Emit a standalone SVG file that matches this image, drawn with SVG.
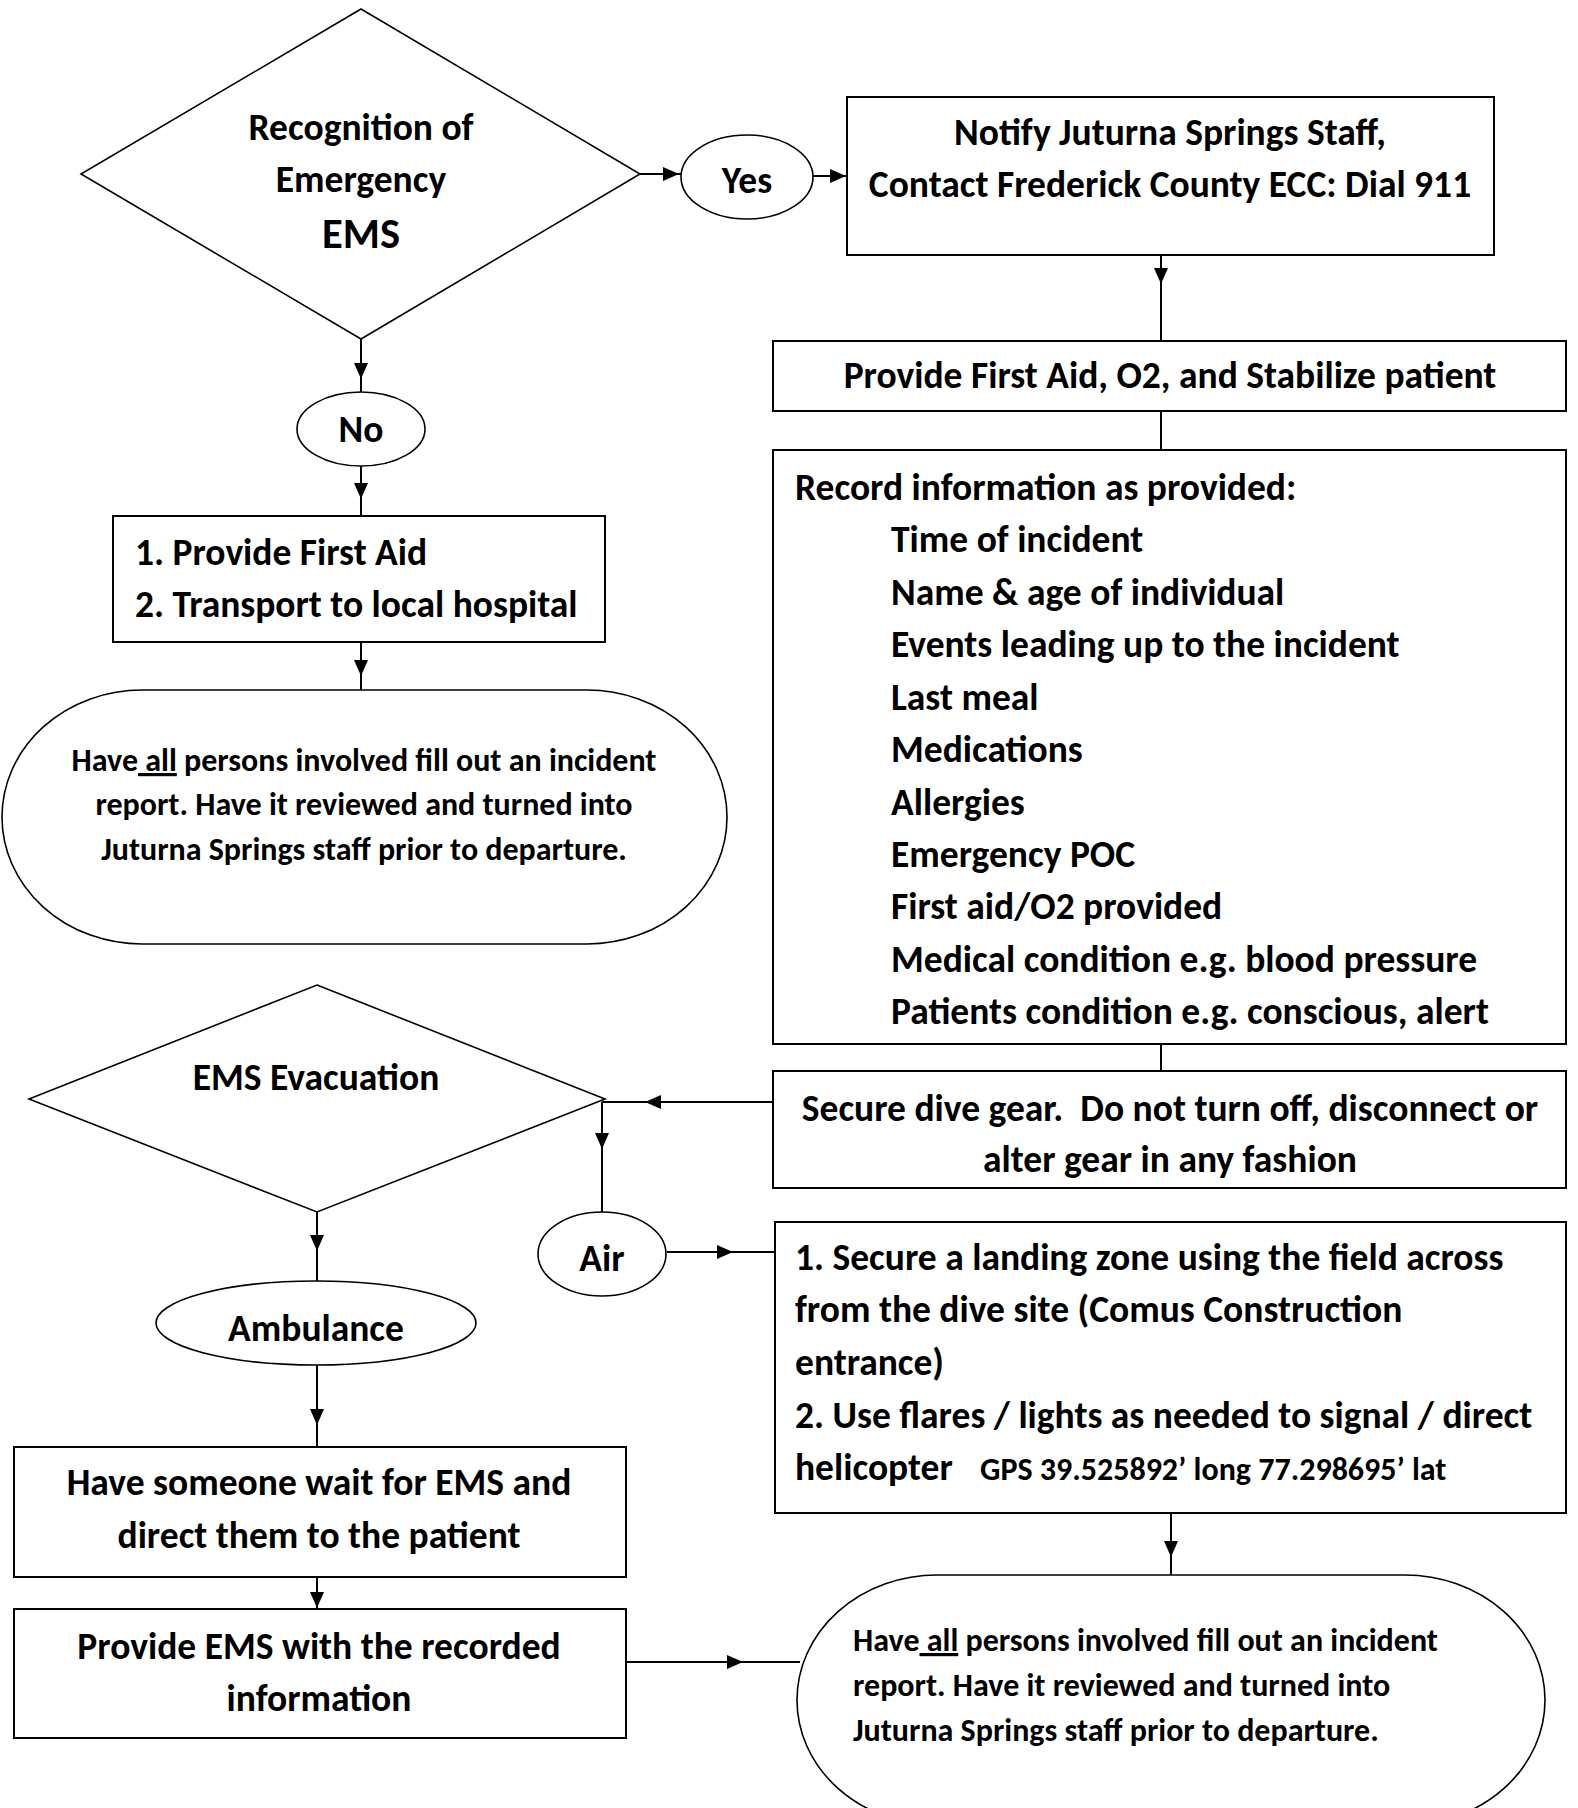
<svg xmlns="http://www.w3.org/2000/svg" xmlns:xlink="http://www.w3.org/1999/xlink" width="1578" height="1808" viewBox="0 0 1578 1808">
<style>
.box{fill:#fff;stroke:#000;stroke-width:2}
.shp{fill:#fff;stroke:#000;stroke-width:1.6}
.t{font-family:Carlito,Lato,"Open Sans",sans-serif;font-weight:700;font-size:37.5px;fill:#000}
.c{text-anchor:middle}
.s{font-size:32px}
.ln{stroke:#000;stroke-width:2;fill:none}
.ah{fill:#000}
</style>
<defs>
<path id="ahD" class="ah" d="M0,0 L-7,-16 L7,-16 Z"/>
<path id="ahR" class="ah" d="M0,0 L-16,-7 L-16,7 Z"/>
<path id="ahL" class="ah" d="M0,0 L16,-7 L16,7 Z"/>
</defs>
<rect width="1578" height="1808" fill="#fff"/>

<g id="connectors">
<line class="ln" x1="640" y1="174" x2="681" y2="174"/>
<use xlink:href="#ahR" x="679" y="174"/>
<line class="ln" x1="813" y1="176" x2="847" y2="176"/>
<use xlink:href="#ahR" x="846" y="176"/>
<line class="ln" x1="1161" y1="255" x2="1161" y2="341"/>
<use xlink:href="#ahD" x="1161" y="284"/>
<line class="ln" x1="1161" y1="411" x2="1161" y2="450"/>
<line class="ln" x1="1161" y1="1044" x2="1161" y2="1071"/>
<line class="ln" x1="773" y1="1102" x2="602" y2="1102"/>
<use xlink:href="#ahL" x="645" y="1102"/>
<line class="ln" x1="602" y1="1102" x2="602" y2="1212"/>
<use xlink:href="#ahD" x="602" y="1149"/>
<line class="ln" x1="667" y1="1252" x2="775" y2="1252"/>
<use xlink:href="#ahR" x="733" y="1252"/>
<line class="ln" x1="1171" y1="1513" x2="1171" y2="1575"/>
<use xlink:href="#ahD" x="1171" y="1557"/>
<line class="ln" x1="361" y1="339" x2="361" y2="392"/>
<use xlink:href="#ahD" x="361" y="379"/>
<line class="ln" x1="361" y1="466" x2="361" y2="516"/>
<use xlink:href="#ahD" x="361" y="499"/>
<line class="ln" x1="361" y1="642" x2="361" y2="690"/>
<use xlink:href="#ahD" x="361" y="676"/>
<line class="ln" x1="317" y1="1212" x2="317" y2="1281"/>
<use xlink:href="#ahD" x="317" y="1251"/>
<line class="ln" x1="317" y1="1365" x2="317" y2="1447"/>
<use xlink:href="#ahD" x="317" y="1425"/>
<line class="ln" x1="317" y1="1577" x2="317" y2="1609"/>
<use xlink:href="#ahD" x="317" y="1608"/>
<line class="ln" x1="626" y1="1662" x2="800" y2="1662"/>
<use xlink:href="#ahR" x="743" y="1662"/>
</g>

<g id="recognition">
<polygon class="shp" points="361,9 640,174 361,339 81,174"/>
<text class="t c" x="361" y="140">Recognition of</text>
<text class="t c" x="361" y="192">Emergency</text>
<text class="t c" x="361" y="248" style="font-size:42.5px">EMS</text>
</g>

<g id="yes">
<ellipse class="shp" cx="747" cy="177" rx="66" ry="42"/>
<text class="t c" x="747" y="193">Yes</text>
</g>

<g id="notify">
<rect class="box" x="847" y="97" width="647" height="158"/>
<text class="t c" x="1170" y="145">Notify Juturna Springs Staff,</text>
<text class="t c" x="1170" y="197">Contact Frederick County ECC: Dial 911</text>
</g>

<g id="provide-first-aid">
<rect class="box" x="773" y="341" width="793" height="70"/>
<text class="t c" x="1170" y="388">Provide First Aid, O2, and Stabilize patient</text>
</g>

<g id="record">
<rect class="box" x="773" y="450" width="793" height="594"/>
<text class="t" x="795" y="500">Record information as provided:</text>
<text class="t" x="891" y="552">Time of incident</text>
<text class="t" x="891" y="605">Name &amp; age of individual</text>
<text class="t" x="891" y="657">Events leading up to the incident</text>
<text class="t" x="891" y="710">Last meal</text>
<text class="t" x="891" y="762">Medications</text>
<text class="t" x="891" y="815">Allergies</text>
<text class="t" x="891" y="867">Emergency POC</text>
<text class="t" x="891" y="919">First aid/O2 provided</text>
<text class="t" x="891" y="972">Medical condition e.g. blood pressure</text>
<text class="t" x="891" y="1024">Patients condition e.g. conscious, alert</text>
</g>

<g id="secure-gear">
<rect class="box" x="773" y="1071" width="793" height="117"/>
<text class="t c" x="1170" y="1121" xml:space="preserve">Secure dive gear.  Do not turn off, disconnect or</text>
<text class="t c" x="1170" y="1172">alter gear in any fashion</text>
</g>

<g id="landing-zone">
<rect class="box" x="775" y="1222" width="791" height="291"/>
<text class="t" x="795" y="1270">1. Secure a landing zone using the field across</text>
<text class="t" x="795" y="1322">from the dive site (Comus Construction</text>
<text class="t" x="795" y="1375">entrance)</text>
<text class="t" x="795" y="1428">2. Use flares / lights as needed to signal / direct</text>
<text class="t" x="795" y="1480">helicopter<tspan x="980" style="font-size:32px">GPS 39.525892’ long 77.298695’ lat</tspan></text>
</g>

<g id="no">
<ellipse class="shp" cx="361" cy="429" rx="64" ry="37"/>
<text class="t c" x="361" y="442">No</text>
</g>

<g id="first-aid-transport">
<rect class="box" x="113" y="516" width="492" height="126"/>
<text class="t" x="135" y="565">1. Provide First Aid</text>
<text class="t" x="135" y="617">2. Transport to local hospital</text>
</g>

<g id="incident-report-left">
<rect class="shp" x="2" y="690" width="725" height="254" rx="140" ry="127"/>
<text class="t s c" x="364" y="771">Have<tspan text-decoration="underline"> all</tspan> persons involved fill out an incident</text>
<text class="t s c" x="364" y="815">report. Have it reviewed and turned into</text>
<text class="t s c" x="364" y="860">Juturna Springs staff prior to departure.</text>
</g>

<g id="ems-evacuation">
<polygon class="shp" points="317,985 605,1099 317,1212 29,1099"/>
<text class="t c" x="316" y="1090">EMS Evacuation</text>
</g>

<g id="air">
<ellipse class="shp" cx="602" cy="1254" rx="64" ry="42"/>
<text class="t c" x="602" y="1271">Air</text>
</g>

<g id="ambulance">
<ellipse class="shp" cx="316" cy="1323" rx="160" ry="42"/>
<text class="t c" x="316" y="1341">Ambulance</text>
</g>

<g id="wait-for-ems">
<rect class="box" x="14" y="1447" width="612" height="130"/>
<text class="t c" x="319" y="1495">Have someone wait for EMS and</text>
<text class="t c" x="319" y="1548">direct them to the patient</text>
</g>

<g id="provide-ems">
<rect class="box" x="14" y="1609" width="612" height="129"/>
<text class="t c" x="319" y="1659">Provide EMS with the recorded</text>
<text class="t c" x="319" y="1711">information</text>
</g>

<g id="incident-report-right">
<rect class="shp" x="797" y="1575" width="748" height="250" rx="140" ry="125"/>
<text class="t s" x="853" y="1651">Have<tspan text-decoration="underline"> all</tspan> persons involved fill out an incident</text>
<text class="t s" x="853" y="1696">report. Have it reviewed and turned into</text>
<text class="t s" x="853" y="1741">Juturna Springs staff prior to departure.</text>
</g>
</svg>
